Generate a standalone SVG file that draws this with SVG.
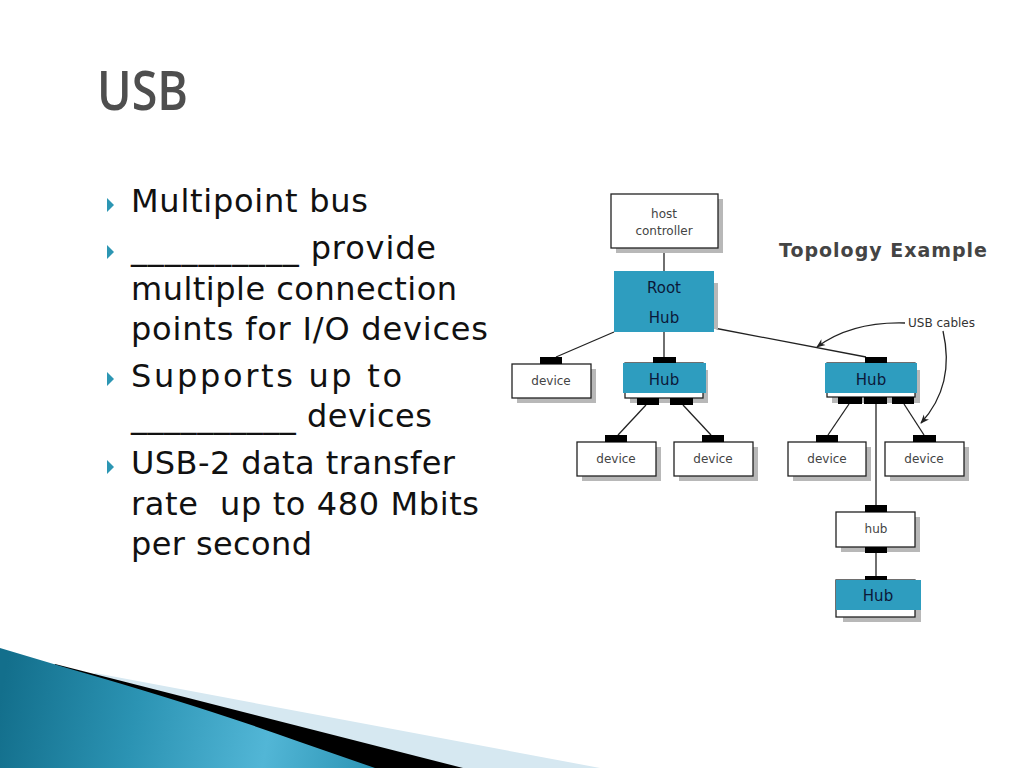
<svg xmlns="http://www.w3.org/2000/svg" width="1024" height="768" viewBox="0 0 1024 768">
<defs>
  <linearGradient id="teal" gradientUnits="userSpaceOnUse" x1="0" y1="700" x2="380" y2="768">
    <stop offset="0" stop-color="#136f8c"/>
    <stop offset="0.35" stop-color="#2b93b3"/>
    <stop offset="0.7" stop-color="#52b6d6"/>
    <stop offset="1" stop-color="#2a92b2"/>
  </linearGradient>
  <marker id="arr" viewBox="0 0 10 10" refX="9" refY="5" markerWidth="9" markerHeight="9" orient="auto" markerUnits="userSpaceOnUse">
    <path d="M0,1 L10,5 L0,9 L3,5 Z" fill="#222"/>
  </marker>
  <style>
    .title{font-family:"Open Sans","Noto Sans",sans-serif;font-size:54px;font-weight:600;fill:#4e4e4e}
    .body{font-family:"DejaVu Sans",sans-serif;font-size:32px;fill:#111}
    .bul{fill:#2c96b3}
    .box{fill:#fff;stroke:#222;stroke-width:1.3}
    .hubf{fill:#2e9dbf}
    .shd{fill:#b8b8b8}
    .con{fill:#000}
    .lbl{font-family:"DejaVu Sans",sans-serif;font-size:12px;fill:#444;text-anchor:middle}
    .hl{font-family:"DejaVu Sans",sans-serif;font-size:15px;fill:#0b1838;text-anchor:middle}
    .ln{stroke:#222;stroke-width:1.3;fill:none}
    .topo{font-family:"DejaVu Sans",sans-serif;font-weight:bold;font-size:19px;fill:#444}
  </style>
</defs>
<rect width="1024" height="768" fill="#fff"/>

<!-- bottom decoration -->
<g id="decoration">
  <polygon points="95,673 600,768 0,768" fill="#d6e8f1"/>
  <polygon points="55,664 463,768 0,768" fill="#000"/>
  <path d="M0,648 L67,668 Q200,706 300,742 L375,768 L0,768 Z" fill="url(#teal)"/>
</g>

<!-- title -->
<text class="title" x="97" y="110" textLength="91" lengthAdjust="spacingAndGlyphs">USB</text>

<!-- bullets -->
<g id="bullets">
  <polygon class="bul" points="107,198 114,205 107,212"/>
  <polygon class="bul" points="107,245 114,252 107,259"/>
  <polygon class="bul" points="107,372 114,379 107,386"/>
  <polygon class="bul" points="107,460 114,467 107,474"/>
  <text class="body" x="131" y="212" textLength="237">Multipoint bus</text>
  <text class="body" x="131" y="259" textLength="305">__________ provide</text>
  <text class="body" x="131" y="300" textLength="326">multiple connection</text>
  <text class="body" x="131" y="340" textLength="357">points for I/O devices</text>
  <text class="body" x="131" y="387" textLength="271">Supports up to</text>
  <text class="body" x="131" y="427" textLength="301">__________ devices</text>
  <text class="body" x="131" y="474" textLength="324">USB-2 data transfer</text>
  <text class="body" x="131" y="515" textLength="348" xml:space="preserve">rate  up to 480 Mbits</text>
  <text class="body" x="131" y="555" textLength="181">per second</text>
</g>

<text class="topo" x="779" y="257" textLength="208">Topology Example</text>

<!-- connectors -->
<g id="connectors">
  <line class="ln" x1="664" y1="248" x2="664" y2="271"/>
  <line class="ln" x1="614" y1="332" x2="556" y2="357"/>
  <line class="ln" x1="664" y1="332" x2="664" y2="357"/>
  <line class="ln" x1="714" y1="328" x2="866" y2="357"/>
  <line class="ln" x1="646" y1="405" x2="618" y2="435"/>
  <line class="ln" x1="683" y1="405" x2="711" y2="435"/>
  <line class="ln" x1="849" y1="404" x2="828" y2="435"/>
  <line class="ln" x1="904" y1="404" x2="924" y2="435"/>
  <line class="ln" x1="876" y1="404" x2="876" y2="505"/>
  <line class="ln" x1="876" y1="553" x2="876" y2="576"/>
  <path class="ln" d="M905,323 C870,322 840,330 817,347" marker-end="url(#arr)"/>
  <path class="ln" d="M943,331 C952,370 942,400 921,423" marker-end="url(#arr)"/>
  <text x="908" y="327" style="font-family:'DejaVu Sans',sans-serif;font-size:12px;fill:#333">USB cables</text>
</g>

<!-- nodes -->
<g id="host">
  <rect class="shd" x="616" y="199" width="107" height="54"/>
  <rect class="box" x="611" y="194" width="107" height="54"/>
  <text class="lbl" x="664" y="218">host</text>
  <text class="lbl" x="664" y="235">controller</text>
</g>

<g id="roothub">
  <rect class="shd" x="714" y="283" width="4" height="46"/>
  <rect class="hubf" x="614" y="271" width="100" height="61"/>
  <text class="hl" x="664" y="293">Root</text>
  <text class="hl" x="664" y="323">Hub</text>
</g>

<g id="device1">
  <rect class="shd" x="517" y="369" width="79" height="34"/>
  <rect class="box" x="512" y="364" width="79" height="34"/>
  <rect class="con" x="540" y="357" width="22" height="7"/>
  <text class="lbl" x="551" y="385">device</text>
</g>

<g id="hub1">
  <rect class="shd" x="630" y="370" width="78" height="33"/>
  <rect class="box" x="625" y="363" width="78" height="35"/>
  <rect class="hubf" x="623" y="363" width="83" height="30"/>
  <rect class="con" x="653" y="357" width="23" height="6"/>
  <rect class="con" x="637" y="398" width="22" height="7"/>
  <rect class="con" x="670" y="398" width="23" height="7"/>
  <text class="hl" x="664" y="385">Hub</text>
</g>

<g id="hub2">
  <rect class="shd" x="832" y="370" width="88" height="33"/>
  <rect class="box" x="827" y="363" width="88" height="34"/>
  <rect class="hubf" x="825" y="363" width="92" height="30"/>
  <rect class="con" x="865" y="357" width="22" height="6"/>
  <rect class="con" x="838" y="397" width="24" height="7"/>
  <rect class="con" x="864" y="397" width="23" height="7"/>
  <rect class="con" x="892" y="397" width="22" height="7"/>
  <text class="hl" x="871" y="385">Hub</text>
</g>

<g id="device2">
  <rect class="shd" x="582" y="447" width="79" height="34"/>
  <rect class="box" x="577" y="442" width="79" height="34"/>
  <rect class="con" x="605" y="435" width="22" height="7"/>
  <text class="lbl" x="616" y="463">device</text>
</g>

<g id="device3">
  <rect class="shd" x="679" y="447" width="79" height="34"/>
  <rect class="box" x="674" y="442" width="79" height="34"/>
  <rect class="con" x="702" y="435" width="22" height="7"/>
  <text class="lbl" x="713" y="463">device</text>
</g>

<g id="device4">
  <rect class="shd" x="793" y="447" width="78" height="34"/>
  <rect class="box" x="788" y="442" width="78" height="34"/>
  <rect class="con" x="816" y="435" width="22" height="7"/>
  <text class="lbl" x="827" y="463">device</text>
</g>

<g id="device5">
  <rect class="shd" x="890" y="447" width="79" height="34"/>
  <rect class="box" x="885" y="442" width="79" height="34"/>
  <rect class="con" x="913" y="435" width="23" height="7"/>
  <text class="lbl" x="924" y="463">device</text>
</g>

<g id="hub3">
  <rect class="shd" x="841" y="517" width="79" height="35"/>
  <rect class="box" x="836" y="512" width="79" height="35"/>
  <rect class="con" x="865" y="505" width="22" height="7"/>
  <rect class="con" x="865" y="547" width="22" height="6"/>
  <text class="lbl" x="876" y="533">hub</text>
</g>

<g id="hub4">
  <rect class="shd" x="843" y="585" width="78" height="37"/>
  <rect class="box" x="836" y="580" width="79" height="37"/>
  <rect class="hubf" x="836" y="580" width="85" height="30"/>
  <rect class="con" x="865" y="576" width="22" height="4"/>
  <text class="hl" x="878" y="601">Hub</text>
</g>
</svg>
